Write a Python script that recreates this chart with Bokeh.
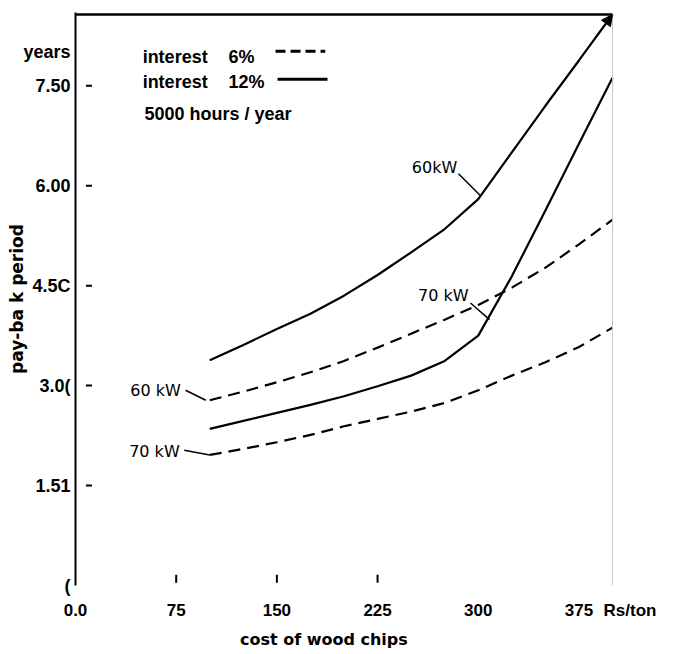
from bokeh.plotting import figure
from bokeh.models import Label, Span, Arrow, NormalHead, FixedTicker, Range1d, LinearAxis
from bokeh.embed import file_html
from bokeh.resources import INLINE
import math

# ---- data ----
cost = [100, 125, 150, 175, 200, 225, 250, 275, 300, 325, 350, 375, 400]
i12_60kw = [3.38, 3.61, 3.85, 4.08, 4.35, 4.66, 5.00, 5.35, 5.80, 6.50, 7.20, 7.88, 8.57]
i12_70kw = [2.35, 2.47, 2.59, 2.71, 2.84, 2.99, 3.15, 3.37, 3.75, 4.64, 5.63, 6.63, 7.62]
i6_60kw = [2.78, 2.91, 3.05, 3.20, 3.37, 3.57, 3.78, 3.99, 4.21, 4.47, 4.77, 5.12, 5.49]
i6_70kw = [1.96, 2.05, 2.15, 2.26, 2.39, 2.50, 2.61, 2.74, 2.93, 3.15, 3.35, 3.58, 3.87]

y_ticks = [0, 1.5, 3, 4.5, 6, 7.5, 8.0]
y_tick_labels = ["(", "1.51", "3.0(", "4.5C", "6.00", "7.50", "years"]
y_dash_ticks = [1.5, 3, 4.5, 6, 7.5]
x_ticks = [0, 75, 150, 225, 300, 375, 413]
x_tick_labels = ["0.0", "75", "150", "225", "300", "375", "Rs/ton"]
x_marks = [75, 150, 225]
x_title_pos = 185

X_DATA_MAX = 400
X_END = 441.7
Y_DATA_MAX = 8.57
Y_END = 8.60

p = figure(width=672, height=651, x_range=Range1d(0, X_END), y_range=Range1d(0, Y_END),
           output_backend="svg", toolbar_location=None,
           min_border_left=75, min_border_right=4, min_border_top=12, min_border_bottom=61)
p.grid.visible = False
p.outline_line_color = None
p.background_fill_color = "white"
p.border_fill_color = "white"

# y axis
ya = p.yaxis[0]
ya.ticker = FixedTicker(ticks=y_ticks)
ya.major_label_overrides = {t: l for t, l in zip(y_ticks, y_tick_labels)}
ya.major_tick_in = 0
ya.major_tick_out = 0
ya.minor_tick_line_color = None
ya.axis_line_width = 2
ya.axis_line_color = "black"
ya.major_label_standoff = 5
ya.major_label_text_font = "Liberation Sans"
ya.major_label_text_font_style = "bold"
ya.major_label_text_font_size = "18px"
ya.major_label_text_color = "black"
ya.axis_label = "pay-ba k period"
ya.axis_label_text_font = "DejaVu Sans"
ya.axis_label_text_font_style = "bold"
ya.axis_label_text_font_size = "17px"
ya.axis_label_text_color = "black"
ya.axis_label_standoff = -7

# x axis (tick labels)
xa = p.xaxis[0]
xa.ticker = FixedTicker(ticks=x_ticks)
xa.major_label_overrides = {t: l for t, l in zip(x_ticks, x_tick_labels)}
xa.axis_line_color = None
xa.major_tick_in = 0
xa.major_tick_out = 0
xa.minor_tick_line_color = None
xa.major_label_standoff = 15
xa.major_label_text_font = "Liberation Sans"
xa.major_label_text_font_style = "bold"
xa.major_label_text_font_size = "17px"
xa.major_label_text_color = "black"

# x axis title, placed under the middle of the curves
xt = LinearAxis(ticker=FixedTicker(ticks=[x_title_pos]),
                major_label_overrides={x_title_pos: "cost of wood chips"})
xt.axis_line_color = None
xt.major_tick_in = 0
xt.major_tick_out = 0
xt.minor_tick_line_color = None
xt.major_label_standoff = 7
xt.major_label_text_font = "DejaVu Sans"
xt.major_label_text_font_style = "bold"
xt.major_label_text_font_size = "16px"
xt.major_label_text_color = "black"
p.add_layout(xt, "below")

# frame edges: thick top line, faint right line
p.line([0, X_DATA_MAX], [Y_DATA_MAX, Y_DATA_MAX], line_color="black", line_width=2.5)
p.add_layout(Span(location=X_DATA_MAX, dimension="height", line_color="#c8c8c8", line_width=1))

# detached tick dashes
p.scatter(x=[10] * len(y_dash_ticks), y=y_dash_ticks, marker="dash", size=6, line_width=2, line_color="black")
p.scatter(x=x_marks, y=[0.1] * len(x_marks), marker="dash", angle=math.pi / 2, size=8,
          line_width=2, line_color="black")

# curves
p.line(cost, i12_60kw, line_color="black", line_width=2.2)
p.line(cost, i12_70kw, line_color="black", line_width=2.2)
p.line(cost, i6_60kw, line_color="black", line_width=2.2, line_dash="12 7")
p.line(cost, i6_70kw, line_color="black", line_width=2.2, line_dash="12 7")

# arrow head at the end of the top curve
p.add_layout(Arrow(end=NormalHead(size=11, fill_color="black", line_color="black"),
                   x_start=cost[-2], y_start=i12_60kw[-2], x_end=cost[-1], y_end=i12_60kw[-1],
                   line_width=0, line_alpha=0))

def lab(text, x, y, size="18px", font="Liberation Sans", style="bold", align="left", base="middle"):
    p.add_layout(Label(x=x, y=y, text=text, text_font=font, text_font_style=style,
                       text_font_size=size, text_color="black", text_align=align, text_baseline=base))

# legend
lab("interest", 50, 7.93)
lab("6%", 114, 7.93)
lab("interest", 50, 7.56)
lab("12%", 114, 7.56)
lab("5000 hours / year", 51.4, 7.07)
p.line([149, 186], [8.02, 8.02], line_color="black", line_width=3, line_dash="10 5")
p.line([150.5, 187.7], [7.60, 7.60], line_color="black", line_width=3)

# curve labels with leader lines
lab("60 kW", 59.6, 2.93, size="16px", font="DejaVu Sans", style="normal", align="center")
lab("70 kW", 58.8, 2.01, size="16px", font="DejaVu Sans", style="normal", align="center")
lab("60kW", 267.4, 6.28, size="16px", font="DejaVu Sans", style="normal", align="center")
lab("70 kW", 274, 4.36, size="16px", font="DejaVu Sans", style="normal", align="center")
p.line([82, cost[0] - 3], [2.93, i6_60kw[0]], line_color="black", line_width=1.5)
p.line([81, cost[0]], [2.03, i6_70kw[0]], line_color="black", line_width=1.5)
p.line([285.3, 301.7], [6.18, 5.85], line_color="black", line_width=1.5)
p.line([294.2, 308.4], [4.24, 3.99], line_color="black", line_width=1.5)

open("out.html", "w").write(file_html(p, INLINE))
